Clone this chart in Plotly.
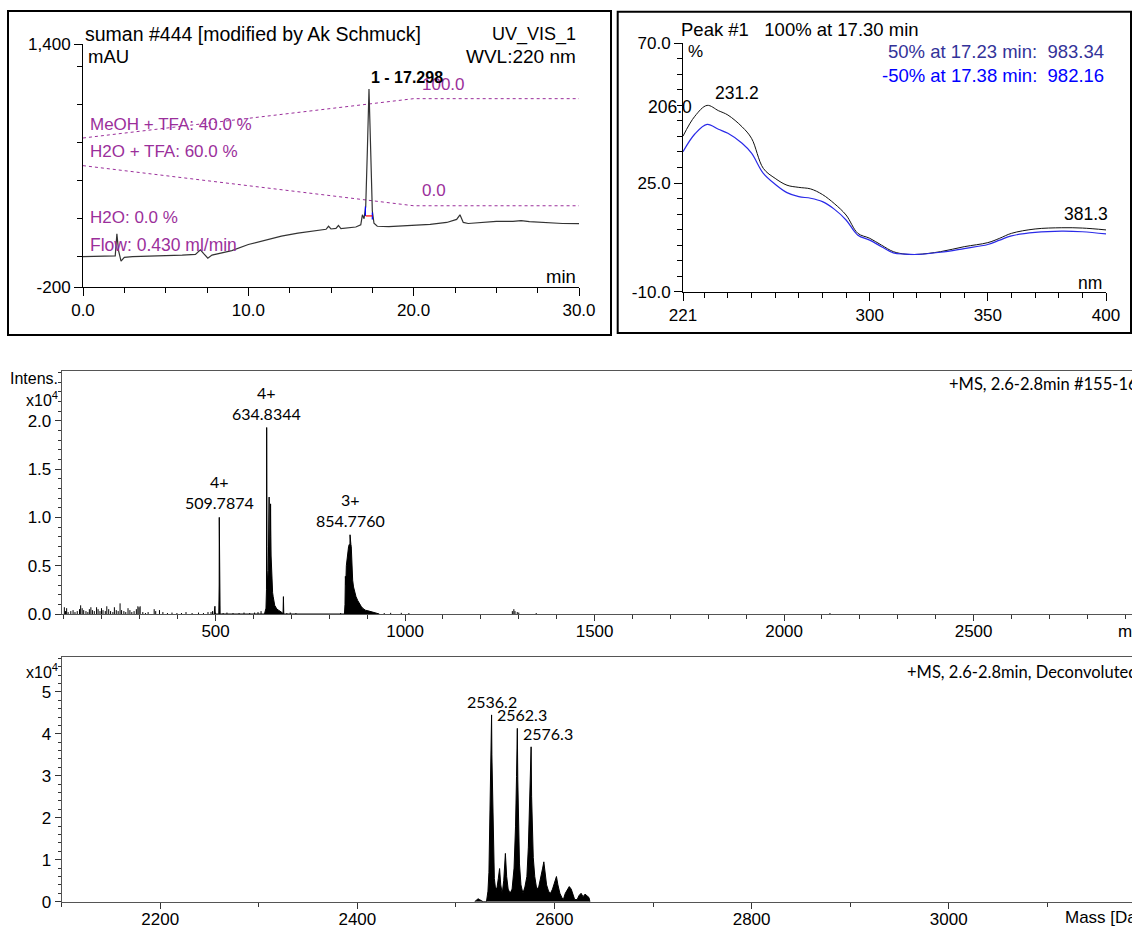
import plotly.graph_objects as go

W, H = 1132, 930

# ---------------- HPLC chromatogram (UV 220 nm) ----------------
chrom_t = [0, 1.5, 1.95, 2.05, 2.15, 2.3, 2.5, 3, 4, 5, 6, 6.8, 7.1, 7.3, 7.55, 7.8, 8.5, 9, 10,
           11, 12, 13, 14, 14.7, 14.85, 15.0, 15.3, 15.45, 15.6, 16, 16.5, 16.8, 16.9, 17.0, 17.1,
           17.2, 17.298, 17.4, 17.5, 17.6, 17.8, 18.5, 19.5, 21, 22, 22.6, 22.8, 23.0, 23.3, 24,
           25, 26, 26.5, 27, 28, 29, 30]
chrom_mau = [0, 2, 5, 150, 40, -30, -5, 0, 2, 5, 10, 15, 45, 20, -10, 10, 25, 40, 80,
             110, 135, 155, 170, 180, 200, 182, 186, 205, 185, 190, 195, 210, 275, 250, 330,
             700, 1104, 700, 300, 220, 200, 197, 202, 212, 225, 245, 275, 225, 218, 225,
             232, 232, 237, 230, 222, 218, 217]

# solvent gradient traces (drawn on the mAU scale)
grad_t = [0, 20, 30]
grad_meoh = [781, 1040, 1040]
grad_h2o = [599, 335, 335]

# integration baseline markers around peak 1
int_blue_t = [17.08, 17.08, None, 17.5, 17.5]
int_blue_mau = [330, 268, None, 290, 245]
int_red_t = [17.1, 17.5]
int_red_mau = [268, 268]

# ---------------- UV spectrum of peak 1 ----------------
uv_nm = [221, 226, 231.2, 236, 240, 246, 250, 255, 260, 265, 270, 275, 280, 285, 290, 295,
         300, 305, 310, 315, 320, 330, 340, 350, 355, 360, 370, 381.3, 390, 400]
uv_apex = [40.1, 46.5, 50.0, 48.3, 46.9, 43.1, 39.4, 29.7, 26.5, 24.3, 23.6, 23.1, 21.3, 18.4,
           14.7, 8.8, 7.2, 5.0, 2.9, 2.1, 2.0, 2.9, 4.5, 5.8, 7.2, 8.8, 10.2, 10.6, 10.5, 9.9]
uv_tail = [35.1, 40.8, 43.9, 42.3, 41.0, 37.8, 34.6, 28.1, 24.6, 21.9, 20.6, 20.1, 19.0, 16.6,
           13.1, 8.2, 6.6, 4.5, 2.5, 2.1, 2.0, 2.7, 3.9, 5.2, 6.6, 8.0, 9.1, 9.5, 9.3, 8.6]

# ---------------- ESI-MS profile (intensity x10^4) ----------------
ms_mz = [496, 497.5, 498.3, 499, 500,
         508.5, 509.5, 509.7874, 510.0, 510.29, 510.8, 511.3, 512,
         629, 631, 633, 634.3, 634.6, 634.8344, 635.09, 635.34, 635.6, 636.0, 637.5, 639,
         640.3, 641.3, 641.6, 642.3, 643.5, 644.5, 645.1, 645.6, 646.5, 647.5, 649, 650.5,
         652, 654, 656, 659, 662, 666, 670, 674, 677, 678,
         678.3, 679, 679.5, 680,
         840, 841.5, 842.5, 843.5, 845, 847, 849, 851, 853, 854.3, 854.776, 855.5, 857, 858,
         859.5, 861.7, 864, 866, 868, 870.5, 875, 879, 884, 888, 895, 905, 915, 925, 932]
ms_int = [0, 0.05, 0.08, 0.02, 0,
          0, 0.3, 1.0, 0.3, 0.24, 0.15, 0.05, 0,
          0, 0.02, 0.06, 0.25, 0.6, 1.93, 1.45, 1.0, 0.7, 0.45, 0.3, 0.45,
          0.9, 1.21, 0.9, 0.6, 0.5, 0.8, 1.14, 0.88, 0.6, 0.42, 0.3, 0.22,
          0.18, 0.12, 0.09, 0.07, 0.05, 0.04, 0.03, 0.02, 0.01, 0,
          0, 0.18, 0.05, 0,
          0, 0.1, 0.39, 0.3, 0.5, 0.59, 0.62, 0.70, 0.72, 0.6, 0.82, 0.75, 0.72, 0.70,
          0.5, 0.35, 0.28, 0.25, 0.21, 0.18, 0.14, 0.11, 0.08, 0.06, 0.04, 0.03, 0.02, 0.01, 0]

noise_mz = [101, 104, 107, 111, 118, 124, 129, 135, 141, 144, 148, 152, 158, 163, 167, 171, 175,
            180, 186, 190, 195, 199, 203, 209, 213, 218, 223, 229, 233, 238, 243, 248, 252, 258,
            263, 269, 274, 279, 285, 291, 295, 298, 301, 308, 315, 322, 338, 342, 352, 361, 373,
            385, 398, 410, 422, 438, 455, 468, 480, 488, 492, 520, 530, 546, 562, 575, 590, 603,
            612, 620, 688, 697, 712, 830, 945, 962, 990, 1010, 1283, 1287, 1290, 1296, 1300,
            1346, 2121]
noise_int = [0.07, 0.03, 0.06, 0.02, 0.03, 0.04, 0.02, 0.03, 0.05, 0.09, 0.06, 0.04, 0.03, 0.02,
             0.05, 0.07, 0.04, 0.03, 0.07, 0.05, 0.03, 0.06, 0.04, 0.03, 0.08, 0.05, 0.03, 0.02,
             0.07, 0.04, 0.03, 0.11, 0.04, 0.03, 0.02, 0.06, 0.04, 0.02, 0.03, 0.05, 0.08, 0.07,
             0.08, 0.02, 0.01, 0.02, 0.05, 0.03, 0.04, 0.02, 0.01, 0.015, 0.01, 0.01, 0.02, 0.01,
             0.015, 0.01, 0.02, 0.02, 0.03, 0.01, 0.015, 0.01, 0.01, 0.015, 0.01, 0.015, 0.02,
             0.03, 0.01, 0.015, 0.01, 0.01, 0.01, 0.012, 0.012, 0.01, 0.03, 0.05, 0.03, 0.02,
             0.015, 0.01, 0.01]

ms_labels = [(509.7874, 1.0, "4+<br>509.7874"),
             (634.8344, 1.93, "4+<br>634.8344"),
             (854.776, 0.82, "3+<br>854.7760")]

# ---------------- Deconvoluted mass spectrum (intensity x10^4) ----------------
dc_mass = [2519, 2521, 2522.5, 2524, 2526, 2527.5, 2531, 2532.5, 2533.5, 2534.5, 2535.5, 2536.0,
           2536.2, 2536.5, 2537.2, 2538, 2539, 2540, 2541.5, 2543, 2544.3, 2545.5, 2547, 2548.5,
           2550.2, 2551.5, 2553, 2555, 2557, 2559, 2560.5, 2561.5, 2562.3, 2562.8, 2563.5, 2564.5,
           2566, 2568, 2570, 2572, 2573.5, 2574.8, 2576.3, 2576.8, 2577.6, 2578.5, 2580, 2582,
           2584, 2586, 2588, 2589.2, 2590.5, 2592, 2594, 2596, 2598, 2600, 2602, 2603.5, 2605.5,
           2607.5, 2609, 2611, 2613, 2615, 2617, 2619, 2620.5, 2623, 2625, 2627, 2629, 2631,
           2633, 2635, 2636]
dc_int = [0, 0.04, 0.07, 0.05, 0.03, 0, 0, 0.25, 0.7, 1.8, 3.0, 3.5,
          4.45, 3.5, 2.6, 1.2, 0.55, 0.35, 0.3, 0.55, 0.79, 0.4, 0.2, 0.5,
          1.15, 0.6, 0.3, 0.2, 0.3, 0.8, 1.8, 2.98, 4.13, 2.9, 1.9, 0.9,
          0.4, 0.2, 0.35, 0.6, 1.3, 2.66, 3.69, 2.5, 1.6, 1.05, 0.6, 0.3,
          0.35, 0.55, 0.8, 0.95, 0.7, 0.4, 0.25, 0.2, 0.3, 0.45, 0.6, 0.4, 0.2,
          0.1, 0.05, 0.2, 0.3, 0.36, 0.3, 0.15, 0.05, 0.05, 0.15, 0.2, 0.12, 0.18,
          0.15, 0.1, 0]

dc_labels = [(2536.2, 4.45, "2536.2", 0), (2562.3, 4.13, "2562.3", 5), (2576.3, 3.69, "2576.3", 17)]


def px(x):
    return x / W


def py(y):
    return 1 - y / H


PURPLE = "#9b2f9b"
ARIAL = "Liberation Sans"
CAL = "Lato"

fig = go.Figure()

# chromatogram
fig.add_trace(go.Scatter(x=grad_t, y=grad_meoh, mode="lines", xaxis="x", yaxis="y",
                         line=dict(color=PURPLE, width=1, dash="dot")))
fig.add_trace(go.Scatter(x=grad_t, y=grad_h2o, mode="lines", xaxis="x", yaxis="y",
                         line=dict(color=PURPLE, width=1, dash="dot")))
fig.add_trace(go.Scatter(x=chrom_t, y=chrom_mau, mode="lines", xaxis="x", yaxis="y",
                         line=dict(color="#333333", width=1.2)))
fig.add_trace(go.Scatter(x=int_blue_t, y=int_blue_mau, mode="lines", xaxis="x", yaxis="y",
                         line=dict(color="#0000ff", width=1.2)))
fig.add_trace(go.Scatter(x=int_red_t, y=int_red_mau, mode="lines", xaxis="x", yaxis="y",
                         line=dict(color="#ff0000", width=1.2)))

# UV spectra
fig.add_trace(go.Scatter(x=uv_nm, y=uv_apex, mode="lines", xaxis="x2", yaxis="y2",
                         line=dict(color="#111111", width=1, shape="spline")))
fig.add_trace(go.Scatter(x=uv_nm, y=uv_tail, mode="lines", xaxis="x2", yaxis="y2",
                         line=dict(color="#2a2ae8", width=1.2, shape="spline")))

# MS profile + noise sticks
fig.add_trace(go.Scatter(x=ms_mz, y=ms_int, mode="lines", xaxis="x3", yaxis="y3",
                         fill="tozeroy", fillcolor="black", line=dict(color="black", width=1)))
stick_x, stick_y = [], []
for m, v in zip(noise_mz, noise_int):
    stick_x += [m, m, None]
    stick_y += [0, v, None]
fig.add_trace(go.Scatter(x=stick_x, y=stick_y, mode="lines", xaxis="x3", yaxis="y3",
                         line=dict(color="black", width=1)))

# deconvoluted spectrum
fig.add_trace(go.Scatter(x=dc_mass, y=dc_int, mode="lines", xaxis="x4", yaxis="y4",
                         fill="tozeroy", fillcolor="black", line=dict(color="black", width=1)))

tickfont = dict(family=ARIAL, size=17, color="black")

common_x = dict(showgrid=False, zeroline=False, showline=True, linecolor="black", linewidth=1,
                ticks="outside", tickcolor="black", ticklen=8, tickfont=tickfont,
                fixedrange=True, automargin=False)
common_y = dict(showgrid=False, zeroline=False, showline=True, linecolor="black", linewidth=1,
                ticks="outside", tickcolor="black", ticklen=8, tickfont=tickfont,
                fixedrange=True, automargin=False)

ms_x = dict(showgrid=False, zeroline=False, showline=True, linecolor="#555555", linewidth=1,
            mirror=True, ticks="outside", tickcolor="#333333", ticklen=6, ticklabelstandoff=-4,
            tickfont=dict(family=ARIAL, size=17, color="black"), fixedrange=True,
            automargin=False)
ms_y = dict(showgrid=False, zeroline=False, showline=True, linecolor="#555555", linewidth=1,
            ticks="outside", tickcolor="#333333", ticklen=6,
            tickfont=dict(family=ARIAL, size=17, color="black"), fixedrange=True,
            automargin=False)

fig.update_layout(
    template="none",
    width=W, height=H, margin=dict(l=0, r=0, t=0, b=0, pad=0),
    paper_bgcolor="white", plot_bgcolor="white", showlegend=False,
    font=dict(family=ARIAL, color="black"),
    xaxis=dict(common_x, domain=[px(83), px(579)], range=[0, 30], anchor="y",
               tickvals=[0, 10, 20, 30], ticktext=["0.0", "10.0", "20.0", "30.0"],
               minor=dict(ticks="outside", ticklen=5, tickcolor="black", tick0=0, dtick=2.5)),
    yaxis=dict(common_y, domain=[py(287), py(44)], range=[-200, 1400], anchor="x",
               tickvals=[-200, 1400], ticktext=["-200", "1,400"],
               minor=dict(ticks="outside", ticklen=5, tickcolor="black", tick0=0, dtick=250)),
    xaxis2=dict(common_x, domain=[px(683), px(1106)], range=[221, 400], anchor="y2",
                tickvals=[221, 300, 350, 400],
                minor=dict(ticks="outside", ticklen=5, tickcolor="black", tick0=0, dtick=10)),
    yaxis2=dict(common_y, domain=[py(291.7), py(43.3)], range=[-10, 70], anchor="x2",
                tickvals=[-10, 25, 70], ticktext=["-10.0", "25.0", "70.0"],
                minor=dict(ticks="outside", ticklen=5, tickcolor="black", tick0=0, dtick=5)),
    xaxis3=dict(ms_x, domain=[px(61.7), 1], range=[94, 2918], anchor="y3",
                tickvals=[500, 1000, 1500, 2000, 2500],
                minor=dict(ticks="outside", ticklen=4, tickcolor="#333333", tick0=0, dtick=100)),
    yaxis3=dict(ms_y, domain=[py(614), py(370.5)], range=[0, 2.52], anchor="x3",
                tickvals=[0, 0.5, 1.0, 1.5, 2.0], ticktext=["0.0", "0.5", "1.0", "1.5", "2.0"],
                minor=dict(ticks="outside", ticklen=3, tickcolor="#333333", tick0=0, dtick=0.1)),
    xaxis4=dict(ms_x, domain=[px(61.7), 1], range=[2100, 3186], anchor="y4",
                tickvals=[2200, 2400, 2600, 2800, 3000],
                minor=dict(ticks="outside", ticklen=4, tickcolor="#333333", tick0=0, dtick=100)),
    yaxis4=dict(ms_y, domain=[py(901.7), py(657)], range=[0, 5.83], anchor="x4",
                tickvals=[0, 1, 2, 3, 4, 5],
                minor=dict(ticks="outside", ticklen=3, tickcolor="#333333", tick0=0, dtick=0.2)),
)

# panel frames for the HPLC and UV windows
fig.add_shape(type="rect", xref="paper", yref="paper", x0=px(8), x1=px(611), y0=py(335), y1=py(11),
              line=dict(color="black", width=2))
fig.add_shape(type="rect", xref="paper", yref="paper", x0=px(617.7), x1=px(1131), y0=py(333),
              y1=py(11.7), line=dict(color="black", width=2))

NB = "\u00a0"


def ptxt(text, x, y, anchor="left", size=17, color="black", family=ARIAL):
    fig.add_annotation(text=text, xref="paper", yref="paper", x=px(x), y=py(y), xanchor=anchor,
                       yanchor="middle", showarrow=False,
                       font=dict(family=family, size=size, color=color))


# chromatogram texts
ptxt("suman #444 [modified by Ak Schmuck]", 83, 34, size=19.5)
ptxt("UV_VIS_1", 578, 34, "right", size=18)
ptxt("mAU", 86, 57, size=18.5)
ptxt("WVL:220 nm", 578, 57, "right", size=19)
ptxt("min", 578, 276, "right", size=18.5)
ptxt("MeOH + TFA: 40.0 %", 88, 125, size=17, color=PURPLE)
ptxt("H2O + TFA: 60.0 %", 88, 151, size=17, color=PURPLE)
ptxt("H2O: 0.0 %", 88, 217, size=17, color=PURPLE)
ptxt("Flow: 0.430 ml/min", 88, 245, size=17.5, color=PURPLE)
ptxt("100.0", 420, 84, size=17, color=PURPLE)
ptxt("0.0", 420, 190, size=17, color=PURPLE)
fig.add_annotation(text="<b>1 - 17.298</b>", xref="x", yref="y", x=17.298, y=1104,
                   xanchor="left", yanchor="middle", yshift=11, showarrow=False,
                   font=dict(family=ARIAL, size=16, color="black"))

# UV spectrum texts
ptxt(f"Peak #1{NB*3}100% at 17.30 min", 679, 30, size=18.5)
ptxt("%", 686, 52, size=17)
ptxt(f"50% at 17.23 min:{NB*2}983.34", 1106, 52, "right", size=18.5, color="#333399")
ptxt(f"-50% at 17.38 min:{NB*2}982.16", 1106, 75, "right", size=18.5, color="#0000ff")
ptxt("206.0", 670, 107, "center", size=17.5)
ptxt("nm", 1104, 283, "right", size=17.5)
fig.add_annotation(text="231.2", xref="x2", yref="y2", x=231.2, y=50.0, xanchor="left",
                   yanchor="middle", xshift=6, yshift=12, showarrow=False,
                   font=dict(family=ARIAL, size=17.5, color="black"))
fig.add_annotation(text="381.3", xref="x2", yref="y2", x=381.3, y=10.6, xanchor="left",
                   yanchor="middle", yshift=14, showarrow=False,
                   font=dict(family=ARIAL, size=17.5, color="black"))

# MS texts
ptxt("Intens.", 60, 379, "right", size=16)
ptxt("x10<sup>4</sup>", 60, 399, "right", size=16)
ptxt("+MS, 2.6-2.8min #155-166", 947, 384, size=16.5, family=CAL)
ptxt("m/z", 1116, 631, size=17)
for m, v, t in ms_labels:
    fig.add_annotation(text=t, xref="x3", yref="y3", x=m, y=v, xanchor="center", yanchor="bottom",
                       yshift=3, showarrow=False, font=dict(family=CAL, size=16, color="black"))

ptxt("x10<sup>4</sup>", 60, 671, "right", size=16)
ptxt("+MS, 2.6-2.8min, Deconvoluted", 905, 672, size=16.5, family=CAL)
ptxt("Mass [Da]", 1063, 917, size=17)
for m, v, t, dx in dc_labels:
    fig.add_annotation(text=t, xref="x4", yref="y4", x=m, y=v, xanchor="center", yanchor="bottom",
                       xshift=dx, yshift=2, showarrow=False,
                       font=dict(family=CAL, size=16, color="black"))

fig.write_html("out.html")
